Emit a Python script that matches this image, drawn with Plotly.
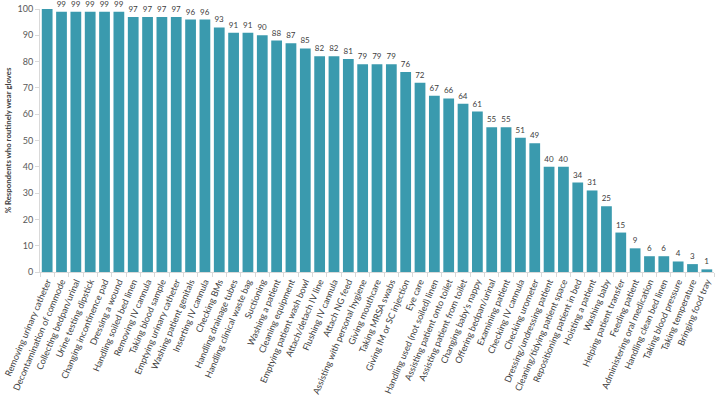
import plotly.graph_objects as go

categories = [
    "Removing urinary catheter", "Decontamination of commode", "Collecting bedpan/urinal",
    "Urine testing dipstick", "Changing incontinence pad", "Dressing a wound",
    "Handling soiled bed linen", "Removing IV cannula", "Taking blood sample",
    "Emptying urinary catheter", "Washing patient genitals", "Inserting IV cannula",
    "Checking BMs", "Handling drainage tubes", "Handling clinical waste bag", "Suctioning",
    "Washing a patient", "Cleaning equipment", "Emptying patient wash bowl",
    "Attach/detach IV line", "Flushing IV cannula", "Attach NG feed",
    "Assisting with personal hygiene", "Giving mouthcare", "Taking MRSA swabs",
    "Giving IM or SC injection", "Eye care", "Handling used (not soiled) linen",
    "Assisting patient onto toilet", "Assisting patient from toilet", "Changing baby\u2019s nappy",
    "Offering bedpan/urinal", "Examining patient", "Checking IV cannula", "Checking urometer",
    "Dressing/undressing patient", "Cleaning/tidying patient space", "Repositioning patient in bed",
    "Hoisting a patient", "Washing baby", "Helping patient transfer", "Feeding patient",
    "Administering oral medication", "Handling clean bed linen", "Taking blood pressure",
    "Taking temperature", "Bringing food tray",
]
values = [100, 99, 99, 99, 99, 99, 97, 97, 97, 97, 96, 96, 93, 91, 91, 90, 88, 87, 85,
          82, 82, 81, 79, 79, 79, 76, 72, 67, 66, 64, 61, 55, 55, 51, 49, 40, 40, 34,
          31, 25, 15, 9, 6, 6, 4, 3, 1]
labels = [""] + [str(v) for v in values[1:]]
y_ticks = list(range(0, 101, 10))

fig = go.Figure(go.Bar(
    x=categories, y=values, text=labels, textposition="outside",
    marker=dict(color="#3A9AAE", line=dict(width=0)),
    textfont=dict(size=8, color="#404040", family="Lato"),
    cliponaxis=False,
))
fig.update_layout(
    width=717, height=400,
    margin=dict(l=40, r=3, t=9, b=128, autoexpand=False),
    paper_bgcolor="white", plot_bgcolor="white",
    bargap=0.25,
    showlegend=False,
    font=dict(family="Lato", color="#404040"),
    uniformtext=dict(minsize=8, mode="show"),
)
fig.update_xaxes(
    tickangle=-67, tickfont=dict(size=9, color="#404040"),
    showline=True, linecolor="#D9D9D9", linewidth=1,
    ticks="outside", ticklen=4, tickcolor="#D9D9D9",
    tickson="boundaries", showgrid=False, automargin=False,
)
fig.update_yaxes(
    range=[0, 100], tickvals=y_ticks, tickfont=dict(size=9, color="#595959"),
    showline=True, linecolor="#D9D9D9", linewidth=1,
    ticks="outside", ticklen=4, tickcolor="#D9D9D9", showgrid=False, automargin=False,
    title=dict(text="<b>% Respondents who routinely wear gloves</b>",
               font=dict(size=7.8, color="#404040"), standoff=4),
)
fig.write_html(
    "out.html",
    config={"displayModeBar": False},
    post_script="document.body.style.margin='0';document.body.style.overflow='hidden';",
)
